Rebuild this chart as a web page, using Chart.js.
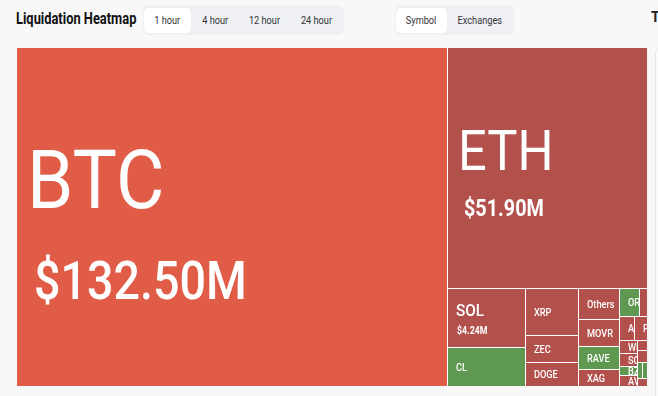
<!DOCTYPE html>
<html>
<head>
<meta charset="utf-8">
<title>Liquidation Heatmap</title>
<script src="https://cdn.jsdelivr.net/npm/chart.js@4.4.1/dist/chart.umd.min.js"></script>
<style>
    body {
        margin: 0;
        width: 658px;
        height: 396px;
        overflow: hidden;
        background: #f8f8f8;
        font-family: Roboto, "Noto Sans", sans-serif;
        position: relative;
    }
    .title {
        position: absolute;
        left: 16px;
        top: 9px;
        font-size: 16.5px;
        font-weight: 700;
        color: #111;
        white-space: nowrap;
        transform: scaleX(0.78);
        transform-origin: left center;
    }
    .tabs {
        position: absolute;
        top: 5px;
        height: 30px;
        background: #eef0f3;
        border-radius: 6px;
    }
    .tab {
        position: absolute;
        top: 3px;
        height: 25px;
        line-height: 25px;
        text-align: center;
        font-size: 11.5px;
        color: #333;
        border-radius: 5px;
    }
    .tab span {
        display: inline-block;
        transform: scaleX(0.8);
    }
    .tab.active {
        background: #fff;
    }
    .cut {
        position: absolute;
        left: 651px;
        top: 9px;
        font-size: 14px;
        font-weight: 700;
        color: #222;
    }
    .side-card {
        position: absolute;
        left: 655px;
        top: 46px;
        width: 40px;
        height: 400px;
        border: 1px solid #e4e4e4;
        border-radius: 8px;
        background: #fafafa;
    }
    #chart-box {
        position: absolute;
        left: 17px;
        top: 48px;
        width: 630px;
        height: 338px;
        background: #fff;
    }
</style>
</head>
<body>
<div class="title">Liquidation Heatmap</div>

<div class="tabs" style="left:143px;width:201px;">
    <div class="tab active" style="left:1px;width:47px;"><span>1 hour</span></div>
    <div class="tab" style="left:48px;width:48px;"><span>4 hour</span></div>
    <div class="tab" style="left:96px;width:50px;"><span>12 hour</span></div>
    <div class="tab" style="left:146px;width:54px;"><span>24 hour</span></div>
</div>

<div class="tabs" style="left:395px;width:119px;">
    <div class="tab active" style="left:1px;width:51px;"><span>Symbol</span></div>
    <div class="tab" style="left:52px;width:66px;"><span>Exchanges</span></div>
</div>

<div class="cut">T</div>
<div class="side-card"></div>

<div id="chart-box"><canvas id="chart-heatmap"></canvas></div>

<script>
// symbols in the order the heatmap lays them out
const symbols = ['BTC', 'ETH', 'SOL', 'CL', 'XRP', 'ZEC', 'DOGE', 'Others', 'MOVR', 'RAVE', 'XAG',
    'ORDI', 'HYPE', 'AAVE', 'PUMP', 'WIF', 'SOON', 'BZ', 'AVAX', 'SUI', 'LINK', 'ADA', 'LTC', 'ENA'];
// cell size (liquidations, $M)
const values = [132.5, 43.8, 4.2, 2.77, 2.23, 1.28, 1.15, 1.13, 1.01, 0.86, 0.64,
    0.51, 0.20, 0.33, 0.29, 0.21, 0.21, 0.15, 0.18, 0.09, 0.11, 0.075, 0.075, 0.075];
// dominant side: L = longs liquidated (red), S = shorts liquidated (green)
const sides = ['L', 'L', 'L', 'S', 'L', 'L', 'L', 'L', 'L', 'S', 'L',
    'S', 'L', 'L', 'L', 'L', 'L', 'S', 'L', 'L', 'L', 'S', 'S', 'L'];
// amount text shown on the big cells
const amountLabels = {BTC: '$132.50M', ETH: '$51.90M', SOL: '$4.24M'};

const COLORS = {hot: '#e05c46', long: '#b2504c', short: '#5f9850'};

// label look per big cell: name size/weight/squeeze, amount size/weight/squeeze, gap, pad, indent
const LABEL_STYLE = {
    BTC: {ns: 81, nw: 400, nq: 0.92, as: 53, aw: 500, aq: 0.88, gap: 54, pad: 10, indent: 7},
    ETH: {ns: 55, nw: 400, nq: 0.92, as: 23, aw: 700, aq: 0.86, gap: 29, pad: 10, indent: 6},
    SOL: {ns: 17, nw: 500, nq: 0.9, as: 10, aw: 700, aq: 0.88, gap: 11, pad: 8, indent: 1}
};

function cellColor(i) {
    if (sides[i] === 'S') return COLORS.short;
    return values[i] > 100 ? COLORS.hot : COLORS.long;
}

// squarified treemap; rows run along the long side unless the free space is clearly tall
function squarify(vals, x0, y0, x1, y1) {
    const ratio = (1 + Math.sqrt(5)) / 2;
    const tall = 0.6;
    const n = vals.length;
    const total = vals.reduce((a, b) => a + b, 0);
    const k = (x1 - x0) * (y1 - y0) / total;
    const areas = vals.map(v => v * k);
    const out = [];
    let i0 = 0;
    while (i0 < n) {
        const dx = x1 - x0, dy = y1 - y0;
        const across = dx < dy * tall;
        const L = across ? dx : dy;
        const f = L * L * ratio;
        let i1 = i0;
        let S = areas[i1++];
        let aMin = S, aMax = S;
        let best = Math.max(f * aMax / (S * S), S * S / (f * aMin));
        for (; i1 < n; i1++) {
            const a = areas[i1];
            const S2 = S + a;
            const mn = Math.min(aMin, a), mx = Math.max(aMax, a);
            const w = Math.max(f * mx / (S2 * S2), S2 * S2 / (f * mn));
            if (w > best) break;
            S = S2; aMin = mn; aMax = mx; best = w;
        }
        const t = i1 >= n ? (across ? dy : dx) : S / L;
        if (across) {
            let x = x0;
            for (let i = i0; i < i1; i++) {
                const w = i === i1 - 1 ? x1 - x : L * areas[i] / S;
                out[i] = {x0: x, x1: x + w, y0: y0, y1: y0 + t};
                x += w;
            }
            y0 += t;
        } else {
            let y = y0;
            for (let i = i0; i < i1; i++) {
                const h = i === i1 - 1 ? y1 - y : L * areas[i] / S;
                out[i] = {x0: x0, x1: x0 + t, y0: y, y1: y + h};
                y += h;
            }
            x0 += t;
        }
        i0 = i1;
    }
    return out;
}

function drawText(ctx, text, x, y, size, weight, squeeze) {
    ctx.save();
    ctx.translate(x, y);
    ctx.scale(squeeze, 1);
    ctx.font = weight + ' ' + size + 'px Roboto, sans-serif';
    ctx.fillText(text, 0, 0);
    ctx.restore();
}

const treemapPlugin = {
    id: 'treemapCells',
    afterDatasetsDraw(chart) {
        const ctx = chart.ctx;
        const xs = chart.scales.x, ys = chart.scales.y;
        const area = chart.chartArea;
        const W = area.right - area.left, H = area.bottom - area.top;
        // layout in area units, then mapped through the 0..1 scales
        const rects = squarify(values, 0, 0, W, H);
        rects.forEach((r, i) => {
            const px0 = Math.round(xs.getPixelForValue(r.x0 / W));
            const px1 = Math.round(xs.getPixelForValue(r.x1 / W));
            const py0 = Math.round(ys.getPixelForValue(r.y0 / H));
            const py1 = Math.round(ys.getPixelForValue(r.y1 / H));
            const gx = r.x0 > 0.5 ? 1 : 0;
            const gy = r.y0 > 0.5 ? 1 : 0;
            const x = px0 + gx, y = py0 + gy;
            const w = px1 - x, h = py1 - y;
            if (w <= 0 || h <= 0) return;
            ctx.fillStyle = cellColor(i);
            ctx.fillRect(x, y, w, h);

            if (w < 12 || h < 8) return;
            ctx.save();
            ctx.beginPath();
            ctx.rect(x, y, w, h);
            ctx.clip();
            ctx.fillStyle = '#fff';
            ctx.textBaseline = 'alphabetic';
            const sym = symbols[i];
            const st = LABEL_STYLE[sym];
            const cy = y + h / 2;
            if (st && amountLabels[sym]) {
                const nameCap = st.ns * 0.711, amtCap = st.as * 0.711;
                const blockH = nameCap + st.gap + amtCap;
                const top = cy - blockH / 2 + h * 0.023;
                drawText(ctx, sym, x + st.pad, top + nameCap, st.ns, st.nw, st.nq);
                drawText(ctx, amountLabels[sym], x + st.pad + st.indent,
                    top + nameCap + st.gap + amtCap, st.as, st.aw, st.aq);
            } else {
                const size = 10;
                drawText(ctx, sym, x + 8, cy + size * 0.711 / 2, size, 500, 0.92);
            }
            ctx.restore();
        });
    }
};

window.addEventListener('DOMContentLoaded', function() {
    const ctx = document.getElementById('chart-heatmap').getContext('2d');
    new Chart(ctx, {
        type: 'scatter',
        data: {
            labels: symbols,
            datasets: [{ label: 'Liquidations', data: [] }]
        },
        options: {
            responsive: true,
            maintainAspectRatio: false,
            animation: false,
            layout: { padding: 0 },
            plugins: {
                legend: { display: false },
                tooltip: { enabled: false }
            },
            scales: {
                x: { type: 'linear', min: 0, max: 1, display: false },
                y: { type: 'linear', min: 0, max: 1, reverse: true, display: false }
            }
        },
        plugins: [treemapPlugin]
    });
});
</script>
</body>
</html>
